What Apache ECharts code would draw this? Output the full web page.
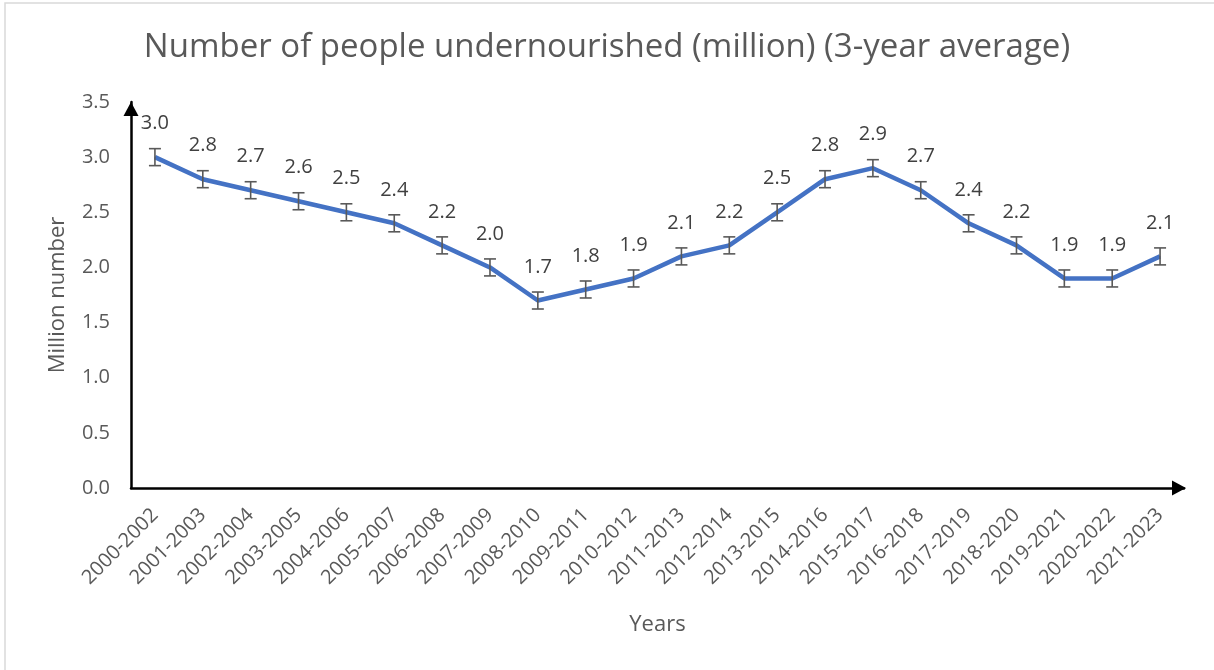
<!DOCTYPE html>
<html>
<head>
<meta charset="utf-8">
<script src="https://cdn.jsdelivr.net/npm/echarts@6/dist/echarts.min.js"></script>
<style>
  html, body { margin: 0; padding: 0; background: #fff; }
  #chart { width: 1214px; height: 670px; }
</style>
</head>
<body>
<div id="chart"></div>
<script>
var years = ['2000-2002', '2001-2003', '2002-2004', '2003-2005', '2004-2006', '2005-2007',
  '2006-2008', '2007-2009', '2008-2010', '2009-2011', '2010-2012', '2011-2013', '2012-2014',
  '2013-2015', '2014-2016', '2015-2017', '2016-2018', '2017-2019', '2018-2020', '2019-2021',
  '2020-2022', '2021-2023'];
var values = [3.0, 2.8, 2.7, 2.6, 2.5, 2.4, 2.2, 2.0, 1.7, 1.8, 1.9, 2.1, 2.2, 2.5, 2.8, 2.9,
  2.7, 2.4, 2.2, 1.9, 1.9, 2.1];
// error bar half-length (same for every point)
var errAmount = 0.077;

var chart = echarts.init(document.getElementById('chart'));

var errData = values.map(function (v, i) { return [i, v - errAmount, v + errAmount]; });

chart.setOption({
  animation: false,
  textStyle: { fontFamily: 'Open Sans' },
  title: {
    text: 'Number of people undernourished (million) (3-year average)',
    left: 'center',
    top: 26,
    textStyle: { fontSize: 33, fontWeight: 'normal', color: '#595959', fontFamily: 'Open Sans' }
  },
  graphic: [{
    type: 'rect',
    shape: { x: 5, y: 3, width: 1230, height: 700 },
    style: { fill: 'none', stroke: '#d9d9d9', lineWidth: 1.5 },
    silent: true
  }],
  grid: { left: 131, right: 30, top: 102, bottom: 182 },
  xAxis: {
    type: 'category',
    data: years,
    boundaryGap: true,
    name: 'Years',
    nameLocation: 'middle',
    nameGap: 126,
    nameTextStyle: { fontSize: 22, color: '#595959' },
    axisTick: { show: false },
    axisLine: {
      lineStyle: { color: '#000', width: 2.5 },
      symbol: ['none', 'triangle'],
      symbolSize: [15, 14],
      symbolOffset: [0, -5]
    },
    axisLabel: { rotate: 45, margin: 24, fontSize: 20, color: '#595959', interval: 0 }
  },
  yAxis: {
    type: 'value',
    min: 0,
    max: 3.5,
    interval: 0.5,
    name: 'Million number',
    nameLocation: 'middle',
    nameGap: 62,
    nameTextStyle: { fontSize: 22, color: '#595959' },
    splitLine: { show: false },
    axisTick: { show: false },
    axisLine: {
      show: true,
      lineStyle: { color: '#000', width: 2.5 },
      symbol: ['none', 'triangle'],
      symbolSize: [15, 14],
      symbolOffset: [0, -7]
    },
    axisLabel: {
      margin: 21,
      fontSize: 20,
      color: '#595959',
      formatter: function (v) { return v.toFixed(1); }
    }
  },
  series: [
    {
      type: 'line',
      data: values,
      symbol: 'circle',
      symbolSize: 1,
      showSymbol: true,
      itemStyle: { color: '#4472C4' },
      lineStyle: { color: '#4472C4', width: 4.5 },
      label: {
        show: true,
        position: 'top',
        distance: 23,
        fontSize: 20,
        color: '#404040',
        formatter: function (p) { return p.value.toFixed(1); }
      },
      z: 3
    },
    {
      type: 'custom',
      data: errData,
      z: 4,
      renderItem: function (params, api) {
        var lo = api.coord([api.value(0), api.value(1)]);
        var hi = api.coord([api.value(0), api.value(2)]);
        var w = 6;
        var st = { stroke: '#595959', lineWidth: 1.6 };
        return {
          type: 'group',
          children: [
            { type: 'line', shape: { x1: hi[0], y1: hi[1], x2: lo[0], y2: lo[1] }, style: st },
            { type: 'line', shape: { x1: hi[0] - w, y1: hi[1], x2: hi[0] + w, y2: hi[1] }, style: st },
            { type: 'line', shape: { x1: lo[0] - w, y1: lo[1], x2: lo[0] + w, y2: lo[1] }, style: st }
          ]
        };
      }
    }
  ]
});
</script>
</body>
</html>
